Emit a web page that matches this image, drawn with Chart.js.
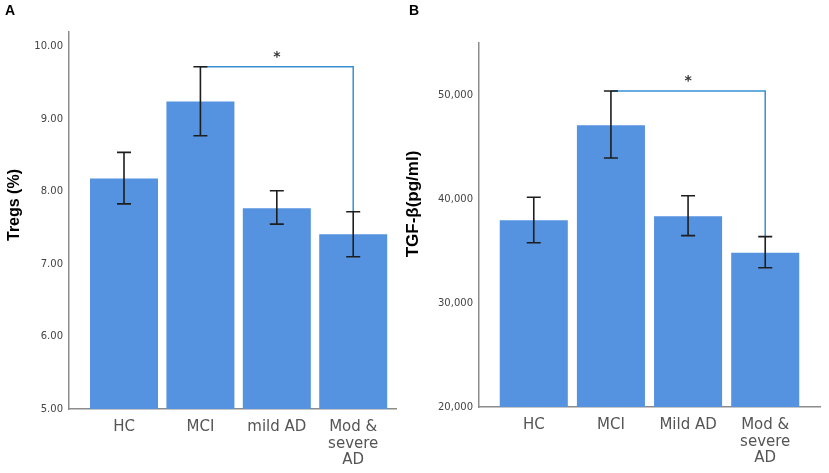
<!DOCTYPE html>
<html><head><meta charset="utf-8">
<script src="https://cdn.jsdelivr.net/npm/chart.js@4.4.1/dist/chart.umd.min.js"></script>
<style>
html,body{margin:0;padding:0;background:#fff;width:829px;height:473px;overflow:hidden}
.panel{position:absolute;top:0;height:473px}
#pa{left:0;width:400px}
#pb{left:400px;width:429px}
.lbl{position:absolute;font:bold 14px "Liberation Sans",Arial,sans-serif;line-height:14px;color:#000}
</style></head><body>
<div class="panel" id="pa"><canvas id="ca"></canvas></div>
<div class="panel" id="pb"><canvas id="cb"></canvas></div>
<div class="lbl" style="left:5px;top:3px">A</div>
<div class="lbl" style="left:409px;top:3px">B</div>
<script>
// ---- data ----
const categoriesA = ['HC', 'MCI', 'mild AD', 'Mod &\nsevere\nAD'];
const categoriesB = ['HC', 'MCI', 'Mild AD', 'Mod &\nsevere\nAD'];
const tregsMean = [8.18, 9.24, 7.77, 7.41];
const tregsLow  = [7.83, 8.77, 7.55, 7.10];
const tregsHigh = [8.54, 9.72, 8.01, 7.72];
const tgfMean = [37950, 47100, 38340, 34840];
const tgfLow  = [35800, 43940, 36480, 33390];
const tgfHigh = [40170, 50380, 40310, 36380];
const tregsTicks = [5, 6, 7, 8, 9, 10];
const tgfTicks = [20000, 30000, 40000, 50000];
const sigPair = [1, 3];
const titleA = 'Tregs (%)';
const titleB = 'TGF-β(pg/ml)';

const BAR_COLOR = '#5592df';
const AXIS_COLOR = '#8c8c8c';
const BRACKET_COLOR = '#3a90d4';

function makeChart(id, cfg) {
  const overlay = {
    id: 'overlay',
    afterDatasetsDraw(chart) {
      const ctx = chart.ctx;
      const xs = chart.scales.x, ys = chart.scales.y;
      ctx.save();
      // significance bracket
      const x1 = xs.getPixelForValue(sigPair[0]);
      const x2 = xs.getPixelForValue(sigPair[1]);
      const y1 = ys.getPixelForValue(cfg.hi[sigPair[0]]);
      const y2 = ys.getPixelForValue(cfg.hi[sigPair[1]]);
      ctx.strokeStyle = BRACKET_COLOR;
      ctx.lineWidth = 1.5;
      ctx.beginPath();
      ctx.moveTo(x1, y1); ctx.lineTo(x2, y1); ctx.lineTo(x2, y2);
      ctx.stroke();
      ctx.fillStyle = '#333';
      ctx.font = 'bold 14px "DejaVu Sans", sans-serif';
      ctx.textAlign = 'center';
      ctx.textBaseline = 'alphabetic';
      ctx.fillText('*', (x1 + x2) / 2, y1 - 6);
      // error bars
      ctx.strokeStyle = '#1e1e1e';
      ctx.lineWidth = 1.6;
      cfg.mean.forEach((m, i) => {
        const x = xs.getPixelForValue(i);
        const yh = ys.getPixelForValue(cfg.hi[i]);
        const yl = ys.getPixelForValue(cfg.lo[i]);
        ctx.beginPath();
        ctx.moveTo(x, yh); ctx.lineTo(x, yl);
        ctx.moveTo(x - 7, yh); ctx.lineTo(x + 7, yh);
        ctx.moveTo(x - 7, yl); ctx.lineTo(x + 7, yl);
        ctx.stroke();
      });
      // y-axis title
      ctx.fillStyle = '#000';
      ctx.font = 'bold ' + cfg.titleSize + 'px "Liberation Sans", Arial, sans-serif';
      ctx.textAlign = 'center';
      ctx.textBaseline = 'middle';
      ctx.translate(cfg.titleX, cfg.titleY);
      ctx.rotate(-Math.PI / 2);
      ctx.fillText(cfg.title, 0, 0);
      ctx.restore();
    }
  };
  return new Chart(document.getElementById(id), {
    type: 'bar',
    data: {
      datasets: [{
        data: cfg.mean.map((v, i) => ({ x: i, y: v })),
        backgroundColor: BAR_COLOR,
        borderWidth: 0,
        categoryPercentage: 1,
        barPercentage: cfg.barPct
      }]
    },
    options: {
      responsive: true,
      maintainAspectRatio: false,
      animation: false,
      layout: { padding: cfg.padding },
      plugins: { legend: { display: false }, tooltip: { enabled: false } },
      scales: {
        x: {
          type: 'linear',
          offset: false,
          min: cfg.xMin, max: cfg.xMax,
          grid: { display: false, drawTicks: false, offset: false },
          border: { display: true, color: AXIS_COLOR, width: 1.5 },
          afterBuildTicks: s => { s.ticks = cfg.cats.map((c, i) => ({ value: i })); },
          afterFit: s => { s.height = cfg.xHeight; },
          ticks: {
            autoSkip: false, maxRotation: 0, minRotation: 0, padding: 10,
            color: '#555',
            font: { family: '"DejaVu Sans", sans-serif', size: 15, lineHeight: 1.1 },
            callback: v => cfg.cats[Math.round(v)].split('\n')
          }
        },
        y: {
          min: cfg.yTicks[0], max: cfg.yMax,
          grid: { display: false, drawTicks: false },
          border: { display: true, color: AXIS_COLOR, width: 1.5 },
          afterBuildTicks: s => { s.ticks = cfg.yTicks.map(v => ({ value: v })); },
          afterFit: s => { s.width = cfg.yWidth; },
          ticks: {
            padding: 6, color: '#444',
            font: { family: '"DejaVu Sans", sans-serif', size: 10 },
            callback: cfg.fmt
          }
        }
      }
    },
    plugins: [overlay]
  });
}

makeChart('ca', {
  cats: categoriesA, mean: tregsMean, lo: tregsLow, hi: tregsHigh,
  yTicks: tregsTicks, yMax: 10.2,
  fmt: v => Number(v).toFixed(2),
  xMin: -0.72, xMax: 3.56, barPct: 0.89,
  padding: { top: 32, right: 4, left: 0, bottom: 0 },
  xHeight: 64, yWidth: 69,
  title: titleA, titleSize: 16, titleX: 14.5, titleY: 205
});

makeChart('cb', {
  cats: categoriesB, mean: tgfMean, lo: tgfLow, hi: tgfHigh,
  yTicks: tgfTicks, yMax: 55000,
  fmt: v => Number(v).toLocaleString('en-US'),
  xMin: -0.71, xMax: 3.71, barPct: 0.882,
  padding: { top: 43, right: 9, left: 0, bottom: 0 },
  xHeight: 66, yWidth: 79,
  title: titleB, titleSize: 17, titleX: 13.5, titleY: 204
});
</script>
</body></html>
